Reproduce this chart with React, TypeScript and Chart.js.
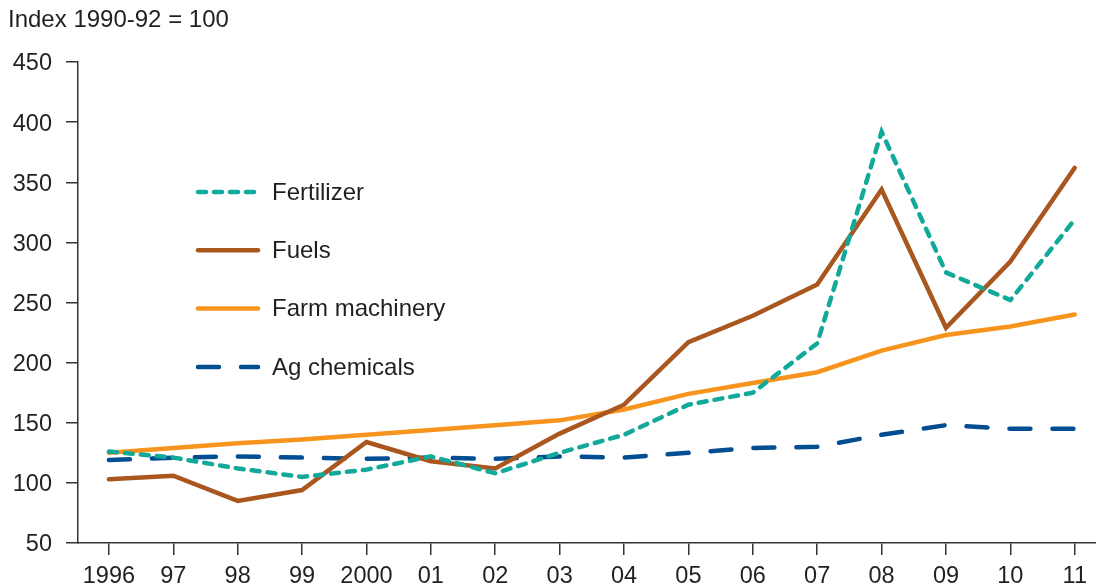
import React, { useEffect, useRef } from "react";
import { Chart, registerables } from "chart.js";

Chart.register(...registerables);

const years = [1996, 1997, 1998, 1999, 2000, 2001, 2002, 2003, 2004, 2005, 2006, 2007, 2008, 2009, 2010, 2011];
const yearLabels = ["1996", "97", "98", "99", "2000", "01", "02", "03", "04", "05", "06", "07", "08", "09", "10", "11"];

const fertilizer = [126, 121, 112, 105, 111, 122, 108, 125, 140, 165, 175, 216, 392, 275, 252, 319];
const fuels = [103, 106, 85, 94, 134, 118, 112, 141, 165, 217, 239, 265, 344, 229, 284, 362];
const farmMachinery = [125, 129, 133, 136, 140, 144, 148, 152, 161, 174, 183, 192, 210, 223, 230, 240];
const agChemicals = [119, 121, 122, 121, 120, 121, 120, 122, 121, 125, 129, 130, 140, 148, 145, 145];

const seriesNames = ["Fertilizer", "Fuels", "Farm machinery", "Ag chemicals"];
const seriesColors = ["#12A89A", "#A9561F", "#F7941E", "#034E92"];
const seriesDashes = [[8, 8], [], [], [21, 22]];

const titleText = "Index 1990-92 = 100";
const FONT = "'Liberation Sans', Arial, Helvetica, sans-serif";
const TEXT = "#231F20";
const AXIS = "#333333";

export default function App() {
  const ref = useRef<HTMLCanvasElement>(null);

  useEffect(() => {
    document.body.style.margin = "0";
    const canvas = ref.current;
    if (!canvas) return;
    const seriesValues = [fertilizer, fuels, farmMachinery, agChemicals];

    const overlay = {
      id: "overlay",
      afterDraw(chart: any) {
        const ctx = chart.ctx;
        const area = chart.chartArea;
        ctx.save();
        ctx.fillStyle = TEXT;
        ctx.font = `24px ${FONT}`;
        ctx.textAlign = "left";
        ctx.textBaseline = "alphabetic";
        ctx.fillText(titleText, 8, 27);

        const x0 = area.left + 118;
        const x1 = area.left + 182;
        const tx = area.left + 194;
        let y = area.top + 130;
        for (let i = 0; i < seriesNames.length; i++) {
          ctx.beginPath();
          ctx.strokeStyle = seriesColors[i];
          ctx.lineWidth = 4.5;
          ctx.lineCap = "round";
          ctx.setLineDash(seriesDashes[i]);
          ctx.moveTo(x0 + 2, y);
          ctx.lineTo(x1 - 2, y);
          ctx.stroke();
          ctx.setLineDash([]);
          ctx.fillStyle = TEXT;
          ctx.textBaseline = "middle";
          ctx.fillText(seriesNames[i], tx, y + 1);
          y += 58.3;
        }
        ctx.restore();
      },
    };

    const chart = new Chart(canvas, {
      type: "line",
      data: {
        datasets: seriesNames.map((name, i) => ({
          label: name,
          data: seriesValues[i].map((v, j) => ({ x: years[j], y: v })),
          borderColor: seriesColors[i],
          backgroundColor: seriesColors[i],
          borderWidth: 4.5,
          borderDash: seriesDashes[i],
          borderCapStyle: "round",
          borderJoinStyle: "miter",
          pointRadius: 0,
          tension: 0,
          fill: false,
        })),
      },
      options: {
        responsive: false,
        animation: false,
        events: [],
        layout: { padding: { top: 62, left: 0, right: 0, bottom: 0 } },
        plugins: {
          legend: { display: false },
          tooltip: { enabled: false },
          title: { display: false },
        },
        scales: {
          x: {
            type: "linear",
            min: 1995.52,
            max: 2011.33,
            afterBuildTicks: (axis: any) => {
              axis.ticks = years.map((v) => ({ value: v }));
            },
            afterFit: (axis: any) => {
              axis.height = 45;
            },
            ticks: {
              autoSkip: false,
              maxRotation: 0,
              padding: 7,
              color: TEXT,
              font: { family: FONT, size: 23.5 },
              callback: (v: any) => yearLabels[years.indexOf(Number(v))],
            },
            grid: { drawOnChartArea: false, drawTicks: true, tickLength: 12, color: AXIS, lineWidth: 1.5 },
            border: { display: true, color: AXIS, width: 1.5 },
          },
          y: {
            min: 50,
            max: 450,
            afterFit: (axis: any) => {
              axis.width = 78;
            },
            ticks: {
              stepSize: 50,
              padding: 14,
              labelOffset: 2,
              color: TEXT,
              font: { family: FONT, size: 23.5 },
            },
            grid: { drawOnChartArea: false, drawTicks: true, tickLength: 12, color: AXIS, lineWidth: 1.5 },
            border: { display: true, color: AXIS, width: 1.5 },
          },
        },
      },
      plugins: [overlay],
    });

    return () => chart.destroy();
  }, []);

  return (
    <div style={{ width: 1096, height: 588, background: "#fff" }}>
      <canvas ref={ref} width={1096} height={588} style={{ display: "block" }} />
    </div>
  );
}
